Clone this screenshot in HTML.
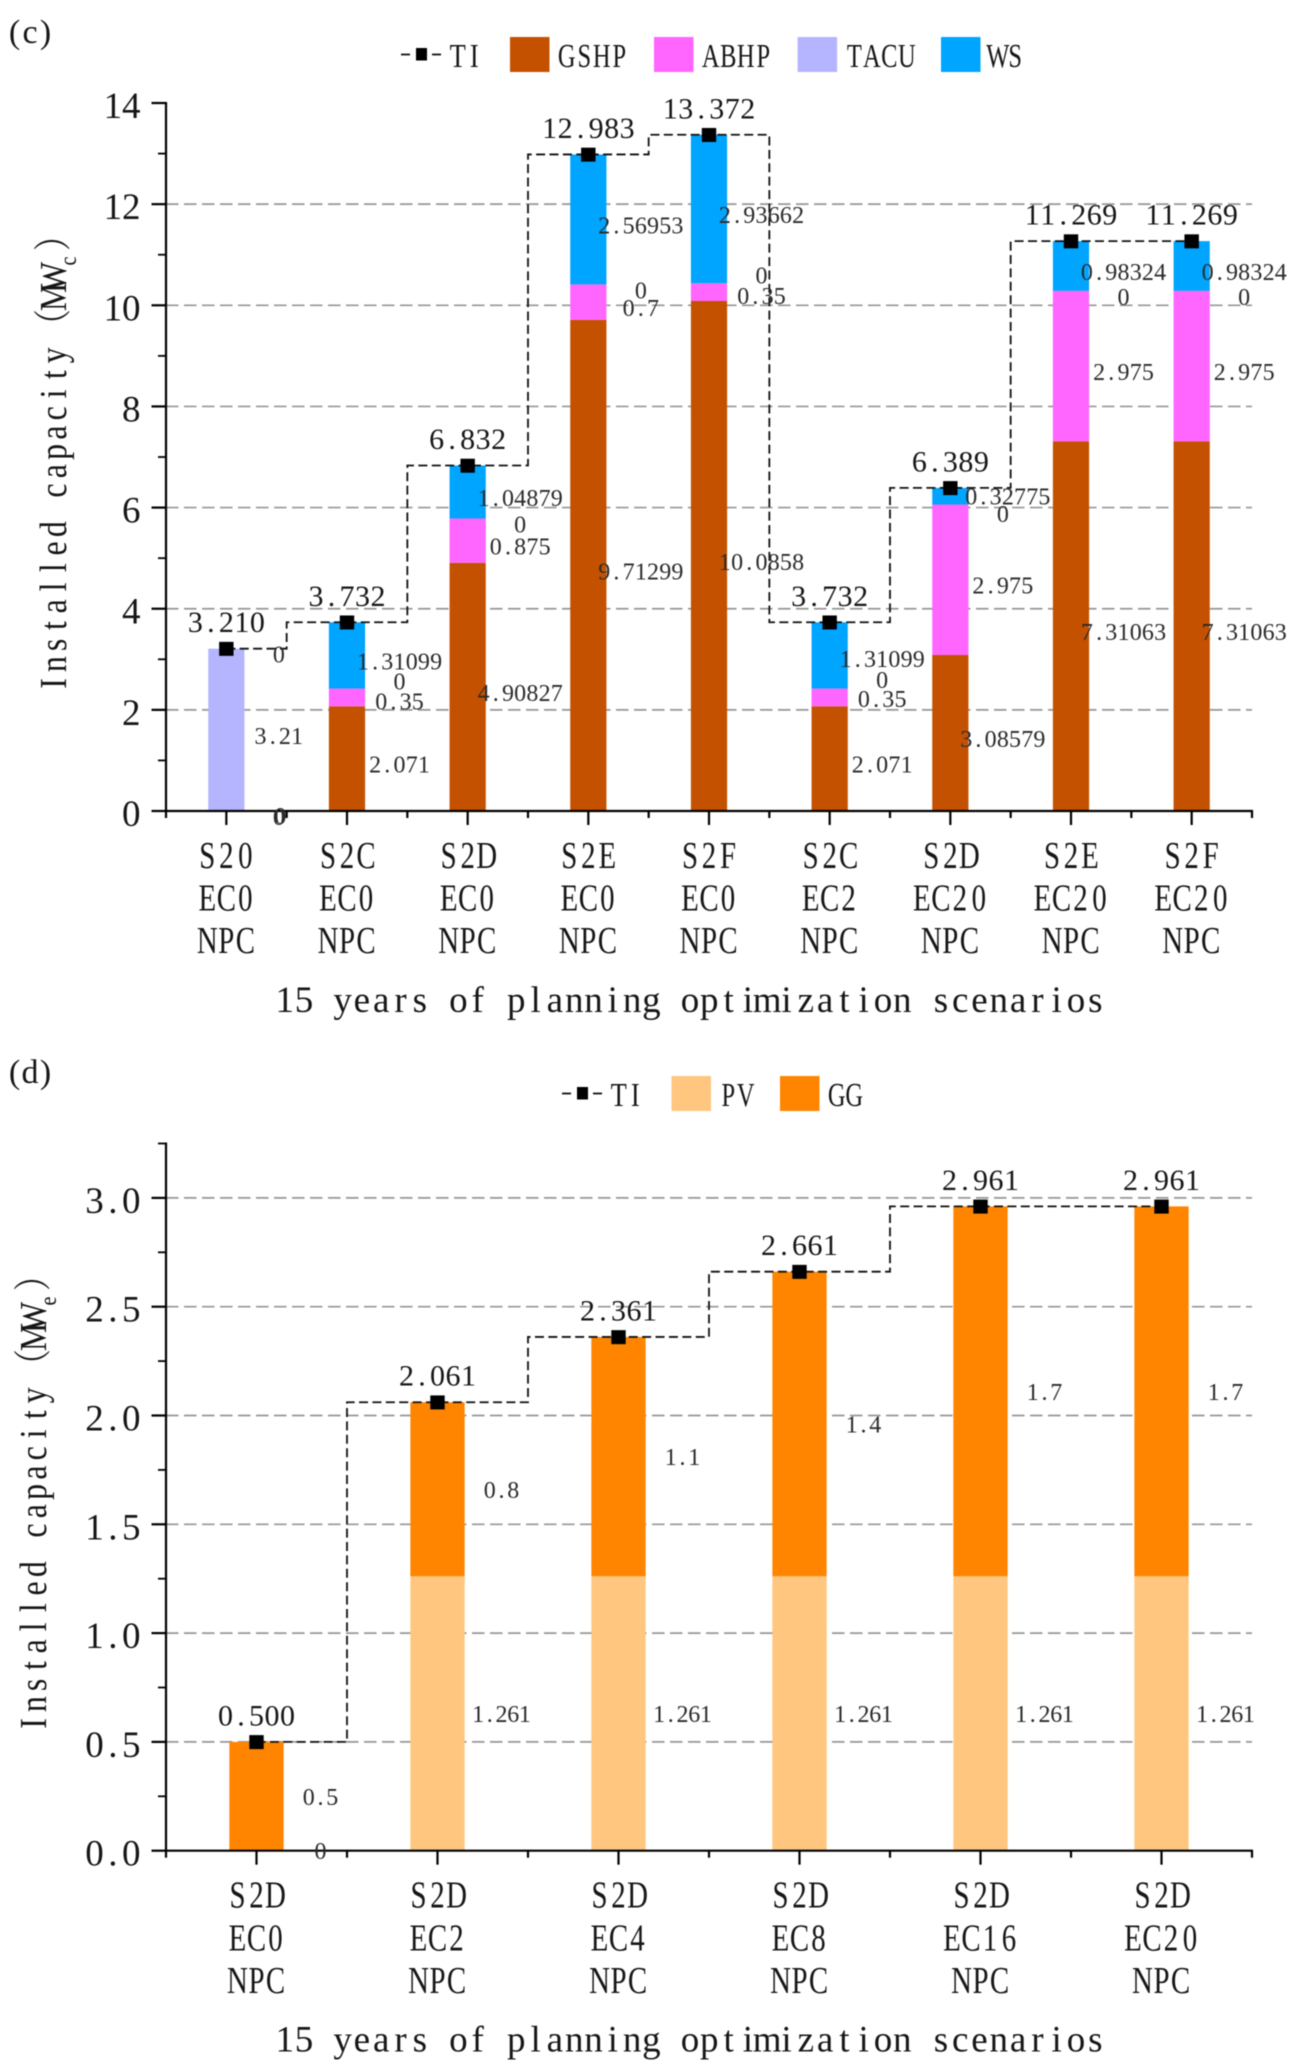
<!DOCTYPE html>
<html lang="en">
<head>
<meta charset="utf-8">
<title>15 years of planning optimization scenarios - installed capacity</title>
<style>
  html, body { margin: 0; padding: 0; background: #fff; }
  svg { display: block; filter: blur(0.4px); }
  text { font-family: "Liberation Serif", "Noto Serif CJK SC", serif; fill: #161616; text-anchor: middle; }
</style>
</head>
<body>
<svg id="figure" xmlns="http://www.w3.org/2000/svg" width="1296" height="2068" viewBox="0 0 1296 2068">
  <rect x="0" y="0" width="1296" height="2068" fill="#ffffff"></rect>
</svg>
<script>
// ---- Panel (c) data ----
const cCategories = [['S20','EC0','NPC'],['S2C','EC0','NPC'],['S2D','EC0','NPC'],['S2E','EC0','NPC'],['S2F','EC0','NPC'],['S2C','EC2','NPC'],['S2D','EC20','NPC'],['S2E','EC20','NPC'],['S2F','EC20','NPC']];
const cGSHP = [0, 2.071, 4.90827, 9.71299, 10.0858, 2.071, 3.08579, 7.31063, 7.31063];
const cABHP = [0, 0.35, 0.875, 0.7, 0.35, 0.35, 2.975, 2.975, 2.975];
const cTACU = [3.21, 0, 0, 0, 0, 0, 0, 0, 0];
const cWS = [0, 1.31099, 1.04879, 2.56953, 2.93662, 1.31099, 0.32775, 0.98324, 0.98324];
const cTI = [3.21, 3.732, 6.832, 12.983, 13.372, 3.732, 6.389, 11.269, 11.269];
const cMajorTicks = [0, 2, 4, 6, 8, 10, 12, 14];
const cMinorTicks = [1, 3, 5, 7, 9, 11, 13];
const cTickLabels = ['0', '2', '4', '6', '8', '10', '12', '14'];
const cGridValues = [2, 4, 6, 8, 10, 12];

// ---- Panel (d) data ----
const dCategories = [['S2D','EC0','NPC'],['S2D','EC2','NPC'],['S2D','EC4','NPC'],['S2D','EC8','NPC'],['S2D','EC16','NPC'],['S2D','EC20','NPC']];
const dPV = [0, 1.261, 1.261, 1.261, 1.261, 1.261];
const dGG = [0.5, 0.8, 1.1, 1.4, 1.7, 1.7];
const dTI = [0.5, 2.061, 2.361, 2.661, 2.961, 2.961];
const dMajorTicks = [0, 0.5, 1, 1.5, 2, 2.5, 3];
const dMinorTicks = [0.25, 0.75, 1.25, 1.75, 2.25, 2.75, 3.25];
const dTickLabels = ['0.0', '0.5', '1.0', '1.5', '2.0', '2.5', '3.0'];
const dGridValues = [0.5, 1, 1.5, 2, 2.5, 3];

const SVG_NS = 'http://www.w3.org/2000/svg';
const figure = document.getElementById('figure');
const AXIS_LEFT = 166;
const AXIS_RIGHT = 1252;

function addShape(parent, tag, name, attrs) {
  const el = document.createElementNS(SVG_NS, tag);
  
  
  for (const k in attrs) el.setAttribute(k, attrs[k]);
  parent.appendChild(el);
  return el;
}

function addGroup(parent, name) {
  const el = document.createElementNS(SVG_NS, 'g');
  
  
  parent.appendChild(el);
  return el;
}

// Half-width cell layout: every character is centred in a fixed-width cell.
// squeeze < 1 condenses the glyphs horizontally while keeping the cell positions.
function cellPositions(count, cx, step, squeeze) {
  const out = [];
  for (let i = 0; i < count; i++) out.push(((cx + (i - (count - 1) / 2) * step) / squeeze).toFixed(2));
  return out.join(' ');
}

function addText(parent, name, str, cx, baseline, step, size, fill, squeeze) {
  const sx = squeeze || 1;
  const el = document.createElementNS(SVG_NS, 'text');
  
  
  el.setAttribute('x', cellPositions(str.length, cx, step, sx));
  el.setAttribute('y', baseline);
  el.setAttribute('font-size', size);
  if (sx !== 1) el.setAttribute('transform', 'scale(' + sx + ',1)');
  if (fill) el.setAttribute('style', 'fill:' + fill);
  el.textContent = str;
  parent.appendChild(el);
  return el;
}

function addYTitle(parent, baseX, offsetY, subscript) {
  const sx = 0.84;
  const el = document.createElementNS(SVG_NS, 'text');
  
  
  el.setAttribute('transform', 'translate(' + baseX + ',' + offsetY + ') rotate(-90) scale(' + sx + ',1)');
  el.setAttribute('font-size', 38);
  const main = 'Installed capacity';
  const xs = [];
  for (let i = 0; i < main.length; i++) xs.push((-(683.5 - 19.3 * i) / sx).toFixed(2));
  const t1 = document.createElementNS(SVG_NS, 'tspan');
  t1.setAttribute('x', xs.concat([(-325 / sx).toFixed(2), (-297 / sx).toFixed(2), (-277 / sx).toFixed(2)]).join(' '));
  t1.setAttribute('y', 0);
  t1.textContent = main + '\uFF08MW';
  el.appendChild(t1);
  const t2 = document.createElementNS(SVG_NS, 'tspan');
  t2.setAttribute('x', (-261 / sx).toFixed(2));
  t2.setAttribute('y', 10);
  t2.setAttribute('font-size', 24);
  t2.textContent = subscript;
  el.appendChild(t2);
  const t3 = document.createElementNS(SVG_NS, 'tspan');
  t3.setAttribute('x', (-235 / sx).toFixed(2));
  t3.setAttribute('y', 0);
  t3.textContent = '\uFF09';
  el.appendChild(t3);
  parent.appendChild(el);
}

function drawChart(cfg) {
  const g = addGroup(figure, cfg.name);
  const count = cfg.categories.length;
  const step = (AXIS_RIGHT - AXIS_LEFT) / count;
  const xAt = i => AXIS_LEFT + (i + 0.5) * step;
  const yAt = v => cfg.y0 - v * cfg.yScale;
  const barW = step * 0.3;

  // panel tag
  addText(g, 'panel-label', cfg.tag, 30, cfg.tagBaseline, 15.5, 34);

  // grid
  cfg.gridValues.forEach(v => {
    addShape(g, 'line', 'grid-line', { x1: AXIS_LEFT, x2: AXIS_RIGHT, y1: yAt(v), y2: yAt(v), stroke: '#969696', 'stroke-width': 1.7, 'stroke-dasharray': '12.5 5.5' });
  });

  // stacked bars
  const totals = cfg.categories.map(() => 0);
  const labelJobs = [];
  cfg.series.forEach(s => {
    s.values.forEach((v, i) => {
      const bottom = totals[i];
      const top = bottom + v;
      totals[i] = top;
      if (v > 0) {
        addShape(g, 'rect', 'bar-' + s.key + '-' + (i + 1), { x: xAt(i) - barW / 2, y: yAt(top), width: barW, height: yAt(bottom) - yAt(top), fill: s.color });
      }
      labelJobs.push({ key: s.key, i: i, v: v, mid: (bottom + top) / 2 });
    });
  });

  // axes
  addShape(g, 'line', 'y-axis-line', { x1: AXIS_LEFT, x2: AXIS_LEFT, y1: yAt(cfg.yMax) - 1, y2: cfg.y0 + 1, stroke: '#000', 'stroke-width': 2.2 });
  addShape(g, 'line', 'x-axis-line', { x1: AXIS_LEFT - 1, x2: AXIS_RIGHT + 1, y1: cfg.y0, y2: cfg.y0, stroke: '#000', 'stroke-width': 2.2 });
  cfg.majorTicks.forEach((v, n) => {
    addShape(g, 'line', 'y-major-tick', { x1: AXIS_LEFT - 14.5, x2: AXIS_LEFT, y1: yAt(v), y2: yAt(v), stroke: '#000', 'stroke-width': 2.2 });
    const lab = cfg.tickLabels[n];
    addText(g, 'y-tick-label', lab, 140.5 - lab.length * 18.4 / 2, yAt(v) + 15, 18.4, 37);
  });
  cfg.minorTicks.forEach(v => {
    addShape(g, 'line', 'y-minor-tick', { x1: AXIS_LEFT - 8, x2: AXIS_LEFT, y1: yAt(v), y2: yAt(v), stroke: '#000', 'stroke-width': 1.8 });
  });
  for (let i = 0; i <= count; i++) {
    const bx = AXIS_LEFT + i * step;
    addShape(g, 'line', 'x-minor-tick', { x1: bx, x2: bx, y1: cfg.y0, y2: cfg.y0 + 7, stroke: '#000', 'stroke-width': 2.2 });
  }
  cfg.categories.forEach((lines, i) => {
    const cx = xAt(i);
    addShape(g, 'line', 'x-major-tick', { x1: cx, x2: cx, y1: cfg.y0, y2: cfg.y0 + 14, stroke: '#000', 'stroke-width': 2.2 });
    lines.forEach((line, k) => {
      addText(g, 'x-category-label', line, cx, cfg.y0 + 57 + k * 42.6, 19, 38, null, 0.76);
    });
  });

  // axis titles
  addText(g, 'x-axis-title', '15 years of planning optimization scenarios', 690, cfg.y0 + 201, 19.3, 37);
  addYTitle(g, cfg.yTitleX, cfg.yTitleOffset, cfg.subscript);

  // TI step line (mid-step between categories)
  let d = '';
  cfg.ti.forEach((v, i) => {
    const y = yAt(v);
    if (i === 0) {
      d += 'M' + xAt(0) + ' ' + y;
    } else {
      const mx = AXIS_LEFT + i * step;
      d += ' L' + mx + ' ' + yAt(cfg.ti[i - 1]) + ' L' + mx + ' ' + y + ' L' + xAt(i) + ' ' + y;
    }
  });
  addShape(g, 'path', 'ti-step-line', { d: d, fill: 'none', stroke: '#111', 'stroke-width': 1.8, 'stroke-dasharray': '9 4.4' });
  cfg.ti.forEach((v, i) => {
    addShape(g, 'rect', 'ti-marker-' + (i + 1), { x: xAt(i) - 7.2, y: yAt(v) - 6.8, width: 14.4, height: 14, fill: '#000' });
    addText(g, 'ti-value-label', v.toFixed(3), xAt(i), yAt(v) - 16.5, 15.5, 30);
  });

  // stacked-segment value labels
  labelJobs.forEach(job => {
    const nudge = cfg.nudges[job.key + ':' + job.i] || [0, 0];
    const cx = xAt(job.i) + cfg.labelDx + nudge[0];
    const cy = yAt(job.mid) + cfg.labelDy + nudge[1];
    addText(g, 'value-label-' + job.key, String(job.v), cx, cy + 8, cfg.labelStep, 24, '#2a2a2a');
  });

  // legend
  const ly = cfg.legendY;
  addShape(g, 'line', 'legend-ti-dash-left', { x1: cfg.legendTiX, x2: cfg.legendTiX + 9, y1: ly + 17.5, y2: ly + 17.5, stroke: '#111', 'stroke-width': 1.8 });
  addShape(g, 'rect', 'legend-ti-marker', { x: cfg.legendTiX + 15, y: ly + 11, width: 11, height: 12.5, fill: '#000' });
  addShape(g, 'line', 'legend-ti-dash-right', { x1: cfg.legendTiX + 31, x2: cfg.legendTiX + 40, y1: ly + 17.5, y2: ly + 17.5, stroke: '#111', 'stroke-width': 1.8 });
  addText(g, 'legend-ti-label', 'TI', cfg.legendTiX + 65, ly + 30, 16.5, 34, null, 0.78);
  cfg.legend.forEach(item => {
    addShape(g, 'rect', 'legend-swatch-' + item.label.toLowerCase(), { x: item.x, y: ly, width: 39.5, height: 35, fill: item.color });
    const n = item.label.length;
    addText(g, 'legend-label-' + item.label.toLowerCase(), item.label, item.x + 48 + n * 17.5 / 2, ly + 30, 17.5, 34, null, 0.72);
  });
}

const colors = { gshp: '#C45100', abhp: '#FF66FF', tacu: '#B5B5FF', ws: '#00A5FF', pv: '#FFC680', gg: '#FF8500' };

drawChart({
  name: 'chart-c', tag: '(c)', tagBaseline: 43, y0: 811, yScale: 50.57, yMax: 14,
  categories: cCategories,
  series: [
    { key: 'gshp', values: cGSHP, color: colors.gshp },
    { key: 'abhp', values: cABHP, color: colors.abhp },
    { key: 'tacu', values: cTACU, color: colors.tacu },
    { key: 'ws', values: cWS, color: colors.ws }
  ],
  ti: cTI, majorTicks: cMajorTicks, minorTicks: cMinorTicks, tickLabels: cTickLabels, gridValues: cGridValues,
  subscript: 'c', yTitleX: 66, yTitleOffset: 0,
  labelDx: 52.5, labelDy: 6, labelStep: 12.2,
  nudges: {
    'tacu:1': [0, -13], 'tacu:5': [0, -14.6], 'abhp:1': [0, -1.7], 'abhp:5': [0, -4.4], 'ws:5': [0, -2.4],
    'tacu:4': [0, -14], 'abhp:4': [0, -2.3], 'ws:6': [5, -5.5], 'tacu:6': [0, 3.5], 'abhp:0': [1.5, -1]
  },
  legendY: 37, legendTiX: 401,
  legend: [
    { label: 'GSHP', x: 510, color: colors.gshp },
    { label: 'ABHP', x: 654, color: colors.abhp },
    { label: 'TACU', x: 797.6, color: colors.tacu },
    { label: 'WS', x: 941, color: colors.ws }
  ]
});

drawChart({
  name: 'chart-d', tag: '(d)', tagBaseline: 1083, y0: 1850.7, yScale: 217.6, yMax: 3.25,
  categories: dCategories,
  series: [
    { key: 'pv', values: dPV, color: colors.pv },
    { key: 'gg', values: dGG, color: colors.gg }
  ],
  ti: dTI, majorTicks: dMajorTicks, minorTicks: dMinorTicks, tickLabels: dTickLabels, gridValues: dGridValues,
  subscript: 'e', yTitleX: 46, yTitleOffset: 1040,
  labelDx: 64, labelDy: 0.5, labelStep: 11.7,
  nudges: {},
  legendY: 1076, legendTiX: 562,
  legend: [
    { label: 'PV', x: 671.5, color: colors.pv },
    { label: 'GG', x: 780, color: colors.gg }
  ]
});
</script>
</body>
</html>
